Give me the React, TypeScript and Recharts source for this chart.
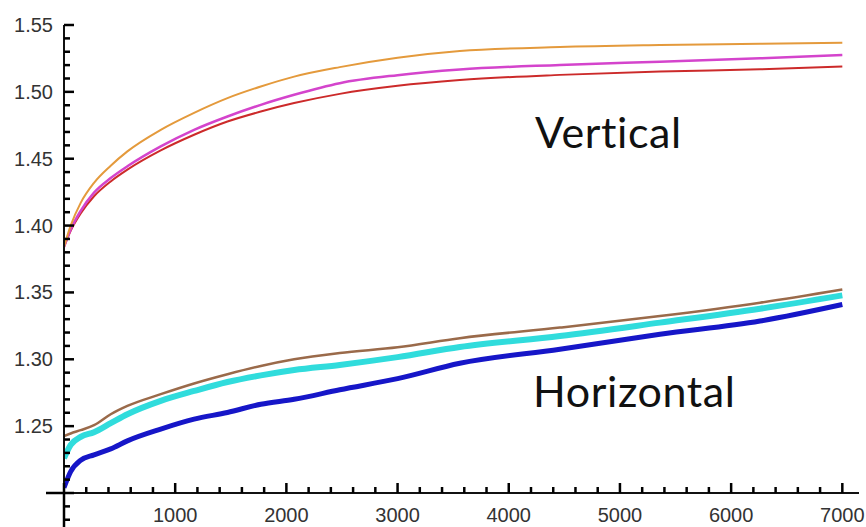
import { Line, LineChart, XAxis, YAxis } from "recharts";

// sample positions along the x axis
const steps = [0, 60, 150, 270, 420, 570, 870, 1170, 1470, 1770, 2070, 2480, 3000, 3560, 4460, 5360, 6260, 7000];

// vertical group
const orange = [1.384, 1.400, 1.417, 1.432, 1.4448, 1.4555, 1.4716, 1.4843, 1.4953, 1.504, 1.5114, 1.5185, 1.5255, 1.5305, 1.5335, 1.535, 1.536, 1.5368];
const magenta = [1.384, 1.397, 1.411, 1.4246, 1.4355, 1.4443, 1.4592, 1.4716, 1.4816, 1.4903, 1.4978, 1.5065, 1.5125, 1.5167, 1.5201, 1.5226, 1.5251, 1.5276];
const red = [1.384, 1.396, 1.409, 1.4219, 1.433, 1.4418, 1.4562, 1.4679, 1.4778, 1.4853, 1.4916, 1.4985, 1.5045, 1.5088, 1.5127, 1.5152, 1.5169, 1.5189];

// horizontal group
const brown = [1.2425, 1.2445, 1.247, 1.2507, 1.2589, 1.2651, 1.2739, 1.2819, 1.2888, 1.295, 1.300, 1.3047, 1.309, 1.3158, 1.3237, 1.3323, 1.3423, 1.3522];
const cyan = [1.226, 1.236, 1.242, 1.2455, 1.2522, 1.2589, 1.2689, 1.2763, 1.283, 1.288, 1.292, 1.2958, 1.3016, 1.3092, 1.3174, 1.3274, 1.3378, 1.3478];
const blue = [1.204, 1.216, 1.2245, 1.2285, 1.233, 1.239, 1.2478, 1.2552, 1.2602, 1.2664, 1.2701, 1.2772, 1.2855, 1.297, 1.3075, 1.3187, 1.3286, 1.341];

const yMajor = [1.2, 1.25, 1.3, 1.35, 1.4, 1.45, 1.5, 1.55];
const yMinor = [
  1.18, 1.19, 1.21, 1.22, 1.23, 1.24, 1.26, 1.27, 1.28, 1.29, 1.31, 1.32, 1.33, 1.34, 1.36, 1.37, 1.38, 1.39,
  1.41, 1.42, 1.43, 1.44, 1.46, 1.47, 1.48, 1.49, 1.51, 1.52, 1.53, 1.54,
];
const xMajor = [0, 1000, 2000, 3000, 4000, 5000, 6000, 7000];
const xMinor = [
  200, 400, 600, 800, 1200, 1400, 1600, 1800, 2200, 2400, 2600, 2800, 3200, 3400, 3600, 3800,
  4200, 4400, 4600, 4800, 5200, 5400, 5600, 5800, 6200, 6400, 6600, 6800,
];

const data = steps.map((x, i) => ({
  x,
  orange: orange[i],
  magenta: magenta[i],
  red: red[i],
  brown: brown[i],
  cyan: cyan[i],
  blue: blue[i],
}));

const W = 866;
const H = 527;
const AXIS = "#111";
const TICK_FONT = "'Liberation Sans', Arial, sans-serif";
const X_DOMAIN = [0, 7150];
const Y_DOMAIN = [1.2, 1.55];
const Y_AXIS_W = 55;

// plot box, shared by the chart margins and the tick overlay
const PLOT = { left: 64, top: 25, width: 795, height: 468 };
const sx = (v: number) => PLOT.left + ((v - X_DOMAIN[0]) / (X_DOMAIN[1] - X_DOMAIN[0])) * PLOT.width;
const sy = (v: number) => PLOT.top + ((Y_DOMAIN[1] - v) / (Y_DOMAIN[1] - Y_DOMAIN[0])) * PLOT.height;

const YLabel = (props: any) => {
  const x = Number(props.x);
  const y = Number(props.y);
  const v = props.payload.value;
  if (v < 1.22) return <g />;
  return (
    <text x={x - 11} y={y} textAnchor="end" dominantBaseline="central" fontSize={20} fontFamily={TICK_FONT} fill="#333">
      {v.toFixed(2)}
    </text>
  );
};

const XLabel = (props: any) => {
  const x = Number(props.x);
  const y = Number(props.y);
  const v = props.payload.value;
  if (v === 0) return <g />;
  return (
    <text x={x} y={y + 22} textAnchor="middle" dominantBaseline="central" fontSize={20} fontFamily={TICK_FONT} fill="#333">
      {v}
    </text>
  );
};

const labelStyle = { fontFamily: "Lato, 'Open Sans', sans-serif", fontSize: 43, letterSpacing: 0.6, fill: "#111" };

export default function App() {
  const x0 = sx(0);
  const y0 = sy(1.2);
  return (
    <div style={{ position: "absolute", left: 0, top: 0, width: W, height: H, background: "#fff" }}>
      <LineChart
        width={W}
        height={H}
        data={data}
        margin={{ top: PLOT.top, right: W - PLOT.left - PLOT.width, left: PLOT.left - Y_AXIS_W, bottom: 0 }}
      >
        <XAxis
          dataKey="x"
          type="number"
          domain={X_DOMAIN}
          allowDataOverflow
          ticks={xMajor}
          interval={0}
          height={H - PLOT.top - PLOT.height}
          tickSize={0}
          tickMargin={0}
          tickLine={false}
          axisLine={{ stroke: AXIS, strokeWidth: 2 }}
          tick={<XLabel />}
        />
        <YAxis
          type="number"
          domain={Y_DOMAIN}
          allowDataOverflow
          ticks={yMajor}
          interval={0}
          width={Y_AXIS_W}
          tickSize={0}
          tickMargin={0}
          tickLine={false}
          axisLine={{ stroke: AXIS, strokeWidth: 2 }}
          tick={<YLabel />}
        />
        <Line type="monotone" dataKey="blue" stroke="#1616c8" strokeWidth={5} dot={false} isAnimationActive={false} />
        <Line type="monotone" dataKey="cyan" stroke="#30dcdc" strokeWidth={6} dot={false} isAnimationActive={false} />
        <Line type="monotone" dataKey="brown" stroke="#9a6a4a" strokeWidth={2.5} dot={false} isAnimationActive={false} />
        <Line type="monotone" dataKey="red" stroke="#cc2a2a" strokeWidth={2} dot={false} isAnimationActive={false} />
        <Line type="monotone" dataKey="magenta" stroke="#d444cc" strokeWidth={2.5} dot={false} isAnimationActive={false} />
        <Line type="monotone" dataKey="orange" stroke="#e49a3c" strokeWidth={2} dot={false} isAnimationActive={false} />
      </LineChart>
      {/* inward tick marks and axis stubs past the origin */}
      <svg width={W} height={H} style={{ position: "absolute", left: 0, top: 0, pointerEvents: "none" }}>
        <g stroke="#000" strokeWidth={2.5}>
          <line x1={x0} x2={x0} y1={y0} y2={H} />
          <line x1={x0 - 18} x2={x0} y1={y0} y2={y0} />
          {yMajor.map((v) => (
            <line key={`ym${v}`} x1={x0} x2={x0 + 10} y1={sy(v)} y2={sy(v)} />
          ))}
          {yMinor.map((v) => (
            <line key={`yn${v}`} x1={x0} x2={x0 + 6} y1={sy(v)} y2={sy(v)} />
          ))}
          {xMajor.map((v) => (
            <line key={`xm${v}`} x1={sx(v)} x2={sx(v)} y1={y0} y2={y0 - 10} />
          ))}
          {xMinor.map((v) => (
            <line key={`xn${v}`} x1={sx(v)} x2={sx(v)} y1={y0} y2={y0 - 6} />
          ))}
        </g>
        <text x={535} y={148} {...labelStyle}>Vertical</text>
        <text x={533} y={407} {...labelStyle}>Horizontal</text>
      </svg>
    </div>
  );
}
